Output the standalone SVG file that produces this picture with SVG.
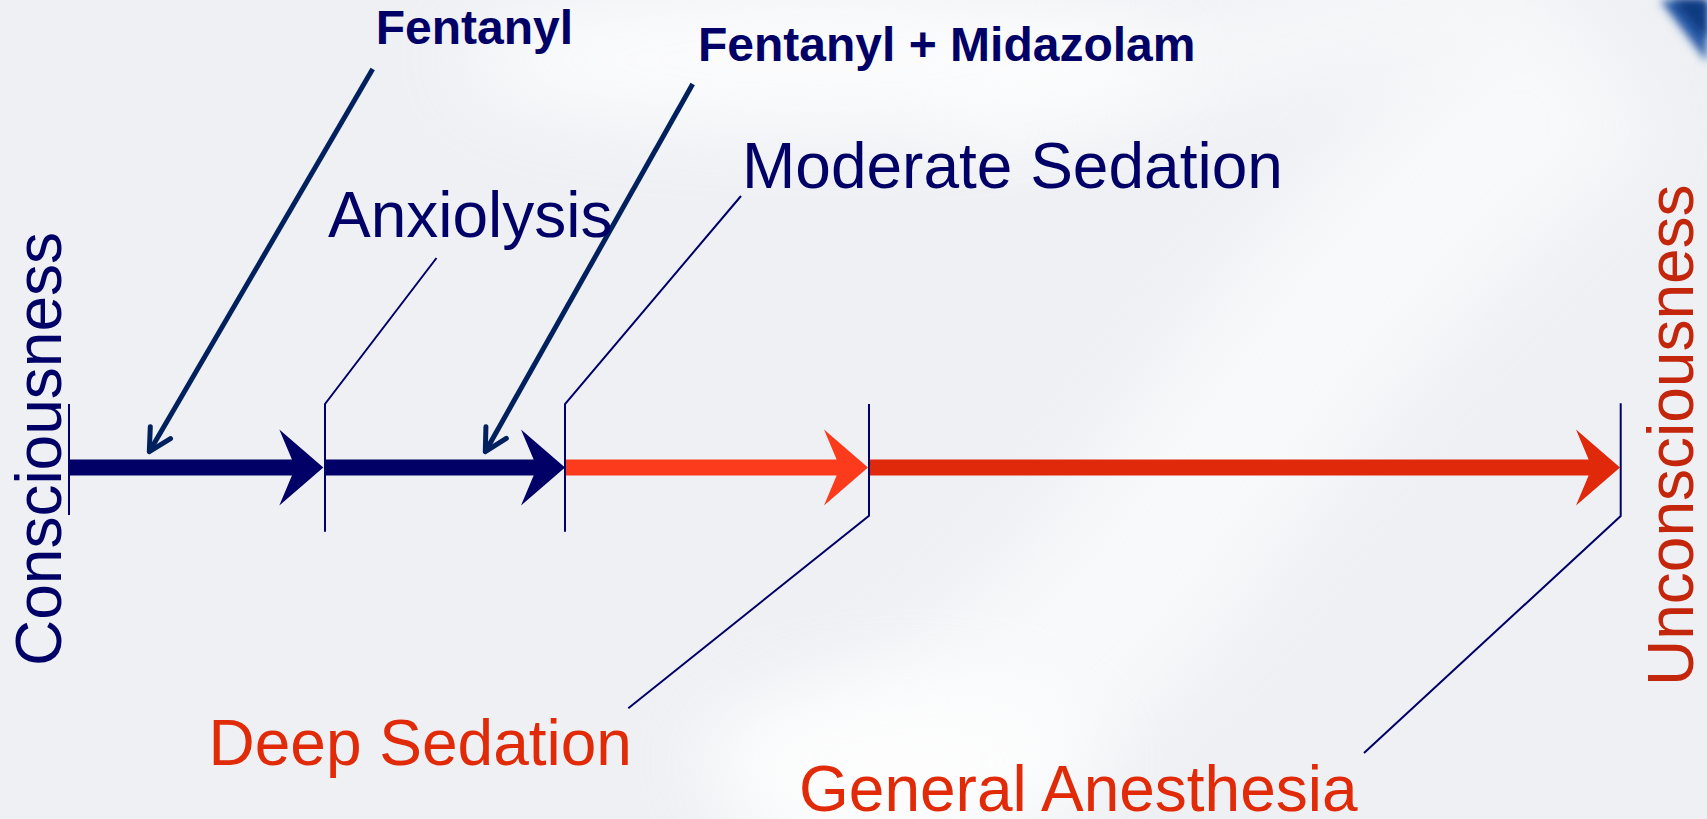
<svg xmlns="http://www.w3.org/2000/svg" width="1707" height="819" viewBox="0 0 1707 819">
  <defs>
    <style>
      .lbl { font-family: "Liberation Sans", Arial, sans-serif; font-size: 64px; }
      .drug { font-family: "Liberation Sans", Arial, sans-serif; font-size: 48px; font-weight: bold; fill: #000066; }
      .lead { fill: none; stroke: #000066; stroke-width: 2; }
      .drugline { fill: none; stroke: #00215E; stroke-width: 5; marker-end: url(#vhead); }
    </style>
    <path id="head" d="M0,0 L-44,-38 L-28,0 L-44,38 Z"/>
    <marker id="vhead" markerUnits="userSpaceOnUse" viewBox="-30 -16 34 32" refX="0" refY="0" markerWidth="34" markerHeight="32" orient="auto">
      <path d="M-22,-11.7 L0,0 L-22,11.7" fill="none" stroke="#00215E" stroke-width="5" stroke-linejoin="round" stroke-linecap="round"/>
    </marker>
    <filter id="blur40" x="-50%" y="-50%" width="200%" height="200%"><feGaussianBlur stdDeviation="40"/></filter>
    <filter id="blur4" x="-50%" y="-50%" width="200%" height="200%"><feGaussianBlur stdDeviation="4"/></filter>
  </defs>

  <!-- background -->
  <g id="background">
    <rect width="1707" height="819" fill="#EEF0F4"/>
    <ellipse cx="820" cy="60" rx="360" ry="70" fill="#FFFFFF" opacity="0.8" filter="url(#blur40)"/>
    <path d="M1600,60 C1400,200 1250,420 1150,560 C1050,690 900,780 760,840" fill="none" stroke="#FFFFFF" stroke-width="200" opacity="0.6" filter="url(#blur40)"/>
    <path d="M1500,-20 C1300,40 1100,90 950,120" fill="none" stroke="#FFFFFF" stroke-width="90" opacity="0.5" filter="url(#blur40)"/>
    <ellipse cx="900" cy="760" rx="200" ry="80" fill="#FFFFFF" opacity="0.7" filter="url(#blur40)"/>
    <path d="M1660,0 C1675,20 1690,40 1707,62 L1707,0 Z" fill="#2B5CA8" filter="url(#blur4)"/>
    <path d="M1672,0 C1684,14 1696,28 1707,40 L1707,0 Z" fill="#0F3A80" filter="url(#blur4)"/>
  </g>

  <!-- connectors -->
  <g id="connectors">
    <!-- main axis -->
    <rect x="69" y="459.5" width="232" height="16" fill="#000066"/>
    <use href="#head" x="323.3" y="467.5" fill="#000066"/>
    <rect x="325" y="459.5" width="212" height="16" fill="#000066"/>
    <use href="#head" x="565" y="467.5" fill="#000066"/>
    <rect x="566" y="459.5" width="275" height="16" fill="#FC3A1C"/>
    <use href="#head" x="868" y="467.5" fill="#FC3A1C"/>
    <rect x="869" y="459.5" width="725" height="16" fill="#E0280A"/>
    <use href="#head" x="1620" y="467.5" fill="#E0280A"/>

    <!-- ticks and leader lines -->
    <line class="lead" x1="69" y1="404" x2="69" y2="515"/>
    <polyline class="lead" points="436.5,258 325,404 325,531.7"/>
    <polyline class="lead" points="741,196 565,404 565,531.7"/>
    <polyline class="lead" points="869,404 869,515.7 628.3,708.3"/>
    <polyline class="lead" points="1620.7,403.3 1620.7,516 1364,753"/>

    <!-- drug arrows -->
    <line class="drugline" x1="372.7" y1="69" x2="149.3" y2="451.7"/>
    <line class="drugline" x1="692.7" y1="84" x2="485.3" y2="451.7"/>
  </g>

  <g id="consciousness">
    <text class="lbl" fill="#000066" transform="translate(61,666) rotate(-90)">Consciousness</text>
  </g>
  <g id="unconsciousness">
    <text class="lbl" fill="#C4260C" transform="translate(1693,686) rotate(-90)">Unconsciousness</text>
  </g>
  <g id="fentanyl">
    <text class="drug" x="375.7" y="44.3">Fentanyl</text>
  </g>
  <g id="fentanyl-midazolam">
    <text class="drug" x="698" y="61">Fentanyl + Midazolam</text>
  </g>
  <g id="anxiolysis">
    <text class="lbl" fill="#000066" x="328" y="236.7">Anxiolysis</text>
  </g>
  <g id="moderate-sedation">
    <text class="lbl" fill="#000066" x="742" y="188.3">Moderate Sedation</text>
  </g>
  <g id="deep-sedation">
    <text class="lbl" fill="#E02A08" x="208.5" y="765">Deep Sedation</text>
  </g>
  <g id="general-anesthesia">
    <text class="lbl" fill="#E02A08" x="799" y="811">General Anesthesia</text>
  </g>
</svg>
